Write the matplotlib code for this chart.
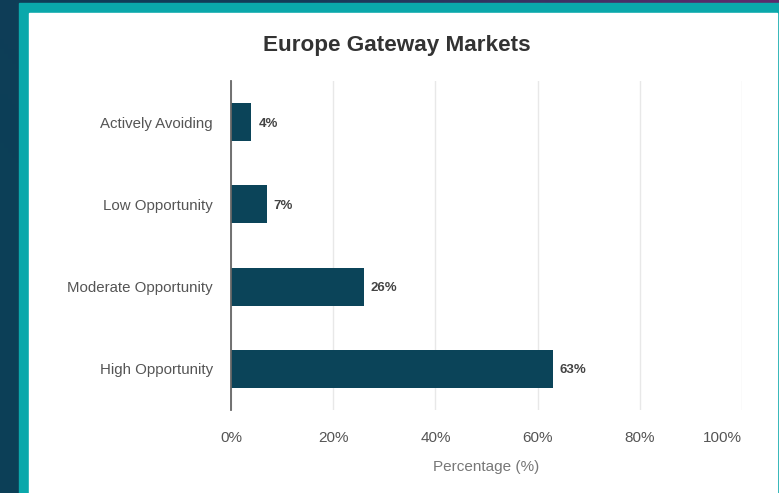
import numpy as np
import matplotlib
matplotlib.use("Agg")
import matplotlib.pyplot as plt
from matplotlib.patches import Rectangle
from matplotlib.colors import LinearSegmentedColormap

plt.rcParams['font.family'] = ['Liberation Sans', 'DejaVu Sans']

categories = ['Actively Avoiding', 'Low Opportunity', 'Moderate Opportunity', 'High Opportunity']
values = [4, 7, 26, 63]
x_ticks = [0, 20, 40, 60, 80, 100]
x_tick_labels = ['0%', '20%', '40%', '60%', '80%', '100%']

W, H = 779, 493
fig = plt.figure(figsize=(W / 100, H / 100), dpi=100)

# backdrop: navy fading into purple towards the top right
bg = fig.add_axes([0, 0, 1, 1], zorder=-10)
bg.set_axis_off()
gx = np.linspace(0, 1, 200)
gy = np.linspace(0, 1, 100)
grad = np.clip(gx[None, :] * 0.9 + gy[:, None] * 0.5 - 0.35, 0, 1)
cmap = LinearSegmentedColormap.from_list('bg', ['#0c3f57', '#153a58', '#5b2a6b'])
bg.imshow(grad, cmap=cmap, aspect='auto', extent=[0, 1, 0, 1], origin='lower')
bg.set_xlim(0, 1)
bg.set_ylim(0, 1)

# teal frame and white card
bg.add_patch(Rectangle((19 / W, 0), 1 - 19 / W, 1 - 3 / H, color='#0aa8ab', zorder=2))
bg.add_patch(Rectangle((29 / W, 0), (777 - 29) / W, 1 - 13 / H, color='white', zorder=3))

ax = fig.add_axes([231 / W, 1 - 410 / H, (742 - 231) / W, (410 - 81) / H])
ax.set_facecolor('none')

y = np.arange(len(categories))
bars = ax.barh(y, values, height=0.46, color='#0b4459', zorder=3)

for yi, v in zip(y, values):
    ax.annotate(f'{v}%', (v, yi), xytext=(5, -1), textcoords='offset points',
                va='center', ha='left', fontsize=9.5, fontweight='bold', color='#444444')

ax.set_ylim(len(categories) - 0.5, -0.5)
ax.set_yticks(y)
ax.set_yticklabels(categories, fontsize=10.8, color='#555555')
ax.set_xlim(0, 100)
ax.set_xticks(x_ticks)
ax.set_xticklabels(x_tick_labels, fontsize=11, color='#555555')
# keep the last label inside the plot edge
ax.get_xticklabels()[-1].set_horizontalalignment('right')
ax.tick_params(axis='both', length=0)
ax.tick_params(axis='x', pad=15)
ax.tick_params(axis='y', pad=13)

ax.grid(axis='x', color='#e8e8e8', linewidth=1, zorder=0)
for side in ['top', 'right', 'bottom']:
    ax.spines[side].set_visible(False)
ax.spines['left'].set_color('#666666')
ax.spines['left'].set_linewidth(1.3)
ax.spines['left'].set_zorder(4)

ax.set_xlabel('Percentage (%)', fontsize=11, color='#777777', labelpad=11)

fig.text(397 / W, 1 - 45 / H, 'Europe Gateway Markets', ha='center', va='center',
         fontsize=16.2, fontweight='bold', color='#333333')

fig.savefig('out.png', dpi=100)
